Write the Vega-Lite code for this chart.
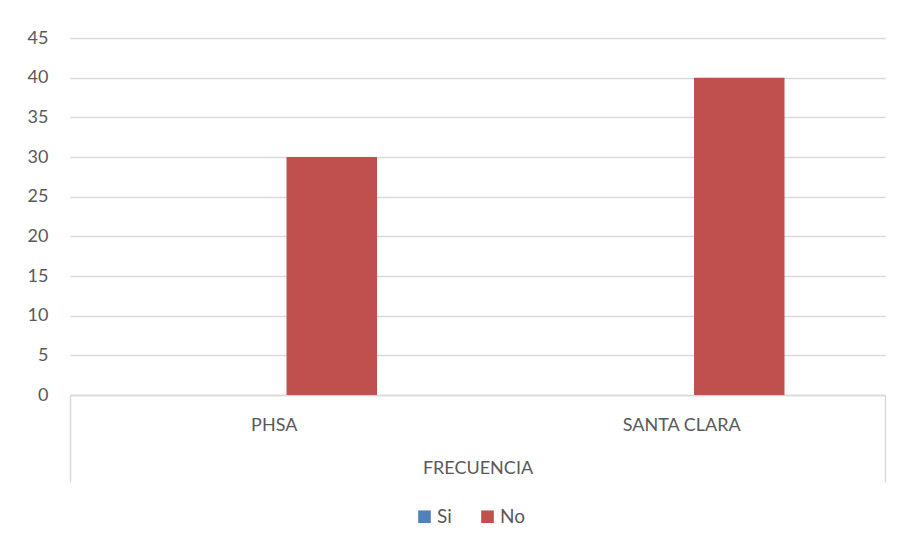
{
  "$schema": "https://vega.github.io/schema/vega-lite/v6.json",
  "autosize": {"type": "none"},
  "padding": {"left": 70, "top": 38, "right": 14, "bottom": 151},
  "width": 815,
  "height": 357,
  "background": "white",
  "config": {
    "font": "Lato",
    "view": {"stroke": null}
  },
  "data": {
    "values": [
      {"cat": "PHSA", "serie": "Si", "valor": 0},
      {"cat": "PHSA", "serie": "No", "valor": 30},
      {"cat": "SANTA CLARA", "serie": "Si", "valor": 0},
      {"cat": "SANTA CLARA", "serie": "No", "valor": 40}
    ]
  },
  "mark": {"type": "bar"},
  "encoding": {
    "x": {
      "field": "cat",
      "type": "nominal",
      "sort": null,
      "scale": {"paddingInner": 0, "paddingOuter": 0},
      "axis": {
        "title": "FRECUENCIA",
        "titleFont": "Lato",
        "titleFontSize": 18,
        "titleFontWeight": "normal",
        "titleColor": "#595959",
        "titleBaseline": "middle",
        "titleY": 73,
        "labelAngle": 0,
        "labelFont": "Lato",
        "labelFontSize": 18,
        "labelColor": "#595959",
        "labelPadding": -66,
        "labelBaseline": "top",
        "domainColor": "#d9d9d9",
        "domainWidth": 1.5,
        "tickBand": "extent",
        "tickSize": 87,
        "tickColor": "#d9d9d9",
        "tickWidth": 1.5,
        "tickOpacity": {"condition": {"test": "datum.value === 'PHSA'", "value": 0}, "value": 1},
        "grid": false
      }
    },
    "xOffset": {
      "field": "serie",
      "type": "nominal",
      "sort": ["Si", "No"],
      "scale": {"domain": ["Si", "No"], "paddingInner": 0.22, "paddingOuter": 0.866}
    },
    "y": {
      "field": "valor",
      "type": "quantitative",
      "scale": {"domain": [0, 45], "nice": false},
      "axis": {
        "title": null,
        "values": [0, 5, 10, 15, 20, 25, 30, 35, 40, 45],
        "domain": false,
        "ticks": false,
        "labelPadding": 22,
        "labelFont": "Lato",
        "labelFontSize": 18,
        "labelColor": "#595959",
        "gridColor": "#d9d9d9",
        "gridWidth": 1.5
      }
    },
    "color": {
      "field": "serie",
      "type": "nominal",
      "sort": ["Si", "No"],
      "scale": {"domain": ["Si", "No"], "range": ["#4f81bd", "#c0504d"]},
      "legend": {
        "title": null,
        "orient": "none",
        "legendX": 345,
        "legendY": 469,
        "direction": "horizontal",
        "symbolType": "square",
        "symbolSize": 160,
        "symbolStrokeWidth": 0,
        "symbolOpacity": 1,
        "labelFont": "Lato",
        "labelFontSize": 19,
        "labelColor": "#595959",
        "columnPadding": 26,
        "labelOffset": 3
      }
    }
  }
}
